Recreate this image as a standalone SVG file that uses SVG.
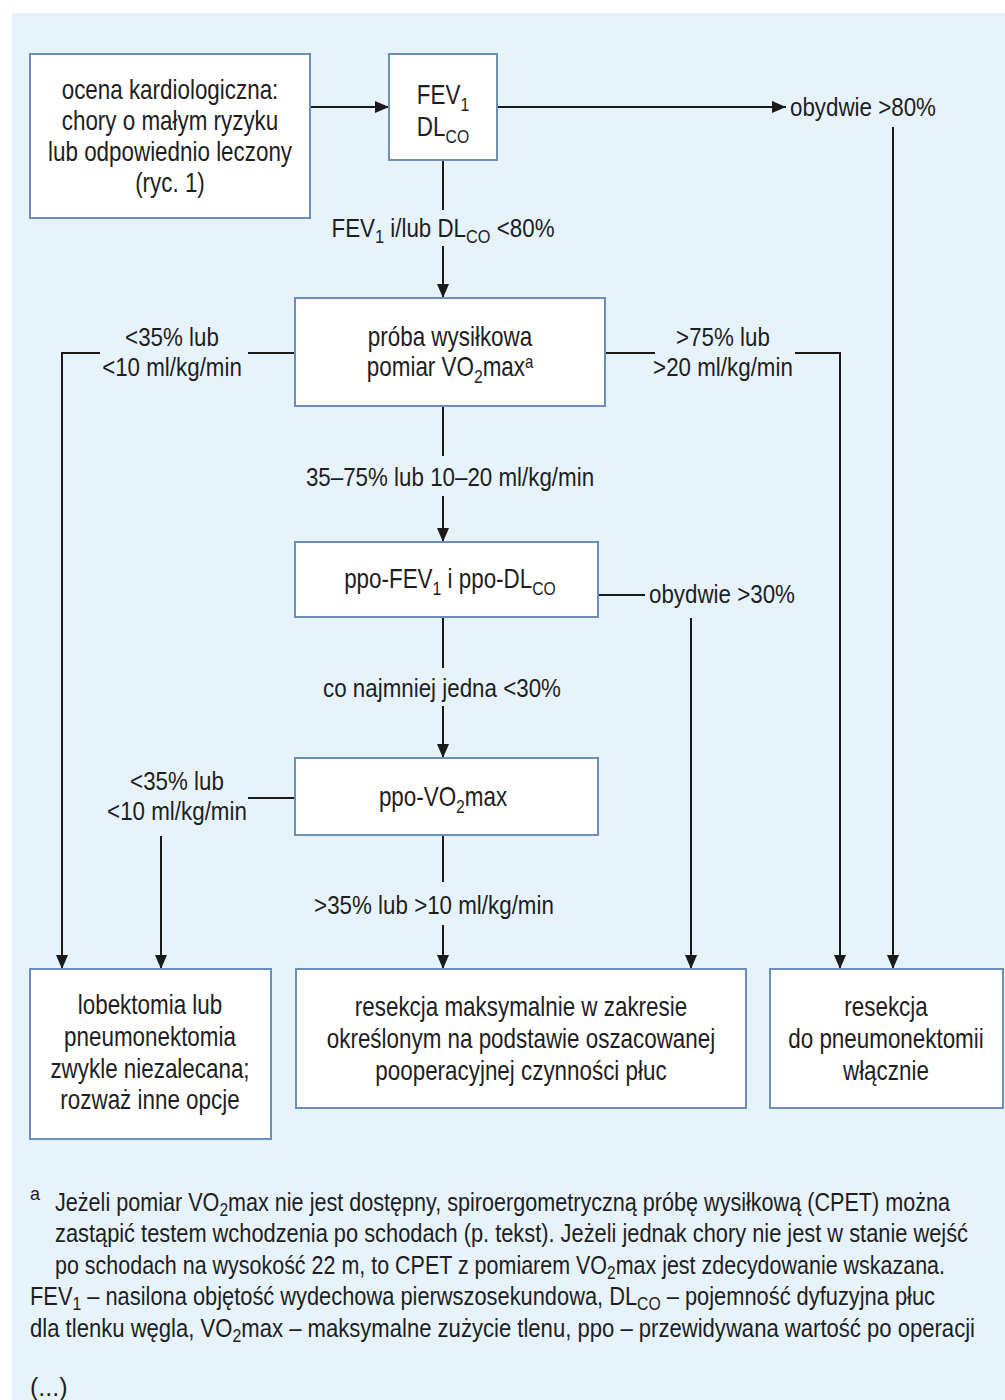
<svg xmlns="http://www.w3.org/2000/svg" width="1005" height="1400" viewBox="0 0 1005 1400">
<defs>
<marker id="ah" markerUnits="userSpaceOnUse" markerWidth="14" markerHeight="12" refX="14" refY="6" orient="auto">
<path d="M0,0 L14,6 L0,12 Z" fill="#1a1a1a"/>
</marker>
<style>
.box{fill:#ffffff;stroke:#6a8fbd;stroke-width:2}
.t{font-family:"Liberation Sans",Arial,sans-serif;font-size:27px;fill:#1e1e1e;text-anchor:middle;transform-box:fill-box;transform-origin:50% 50%;transform:scaleX(0.83)}
.l{font-family:"Liberation Sans",Arial,sans-serif;font-size:26px;fill:#1e1e1e;transform-box:fill-box;transform-origin:0% 50%;transform:scaleX(0.86)}
.l.c{text-anchor:middle;transform-origin:50% 50%}
.f{font-family:"Liberation Sans",Arial,sans-serif;font-size:25px;fill:#1e1e1e}
.ln{fill:none;stroke:#1a1a1a;stroke-width:2}
.ar{marker-end:url(#ah)}
.sub{font-size:19px}
.fs{font-size:18px}
</style>
</defs>
<rect x="0" y="0" width="1005" height="1400" fill="#ffffff"/>
<rect x="12" y="13" width="993" height="1387" fill="#e7f3fb"/>

<g id="connectors">
<path class="ln ar" d="M310,107 H389"/>
<path class="ln ar" d="M497,107 H786"/>
<path class="ln ar" d="M893,127 V969"/>
<path class="ln" d="M443,160 V210"/>
<path class="ln ar" d="M443,246 V298"/>
<path class="ln" d="M295,353 H248"/>
<path class="ln ar" d="M100,353 H62 V969"/>
<path class="ln" d="M605,353 H655"/>
<path class="ln ar" d="M795,353 H840 V969"/>
<path class="ln" d="M443,406 V456"/>
<path class="ln ar" d="M443,496 V542"/>
<path class="ln" d="M598,595 H645"/>
<path class="ln ar" d="M691,618 V969"/>
<path class="ln" d="M443,617 V668"/>
<path class="ln ar" d="M443,706 V758"/>
<path class="ln" d="M295,798 H248"/>
<path class="ln ar" d="M161,836 V969"/>
<path class="ln" d="M443,835 V882"/>
<path class="ln ar" d="M443,925 V969"/>
</g>

<g id="labels">
<text class="l c" x="443" y="237">FEV<tspan class="sub" baseline-shift="-6">1</tspan> i/lub DL<tspan class="sub" baseline-shift="-6">CO</tspan> &lt;80%</text>
<text class="l" x="790" y="116">obydwie &gt;80%</text>
<text class="l c" x="172" y="346">&lt;35% lub</text>
<text class="l c" x="172" y="376">&lt;10 ml/kg/min</text>
<text class="l c" x="723" y="346">&gt;75% lub</text>
<text class="l c" x="723" y="376">&gt;20 ml/kg/min</text>
<text class="l c" x="450" y="486">35–75% lub 10–20 ml/kg/min</text>
<text class="l" x="649" y="603">obydwie &gt;30%</text>
<text class="l c" x="442" y="697">co najmniej jedna &lt;30%</text>
<text class="l c" x="177" y="790">&lt;35% lub</text>
<text class="l c" x="177" y="820">&lt;10 ml/kg/min</text>
<text class="l c" x="434" y="914">&gt;35% lub &gt;10 ml/kg/min</text>
</g>

<g id="n1">
<rect class="box" x="30" y="54" width="280" height="164"/>
<text class="t" x="170" y="99">ocena kardiologiczna:</text>
<text class="t" x="170" y="130">chory o małym ryzyku</text>
<text class="t" x="170" y="161">lub odpowiednio leczony</text>
<text class="t" x="170" y="192">(ryc. 1)</text>
</g>
<g id="n2">
<rect class="box" x="389" y="54" width="108" height="106"/>
<text class="t" x="443" y="104">FEV<tspan class="sub" baseline-shift="-6">1</tspan></text>
<text class="t" x="443" y="136">DL<tspan class="sub" baseline-shift="-6">CO</tspan></text>
</g>
<g id="n3">
<rect class="box" x="295" y="298" width="310" height="108"/>
<text class="t" x="450" y="346">próba wysiłkowa</text>
<text class="t" x="450" y="376">pomiar VO<tspan class="sub" baseline-shift="-6">2</tspan>max<tspan class="fs" baseline-shift="8">a</tspan></text>
</g>
<g id="n4">
<rect class="box" x="295" y="542" width="303" height="75"/>
<text class="t" x="450" y="588">ppo-FEV<tspan class="sub" baseline-shift="-6">1</tspan> i ppo-DL<tspan class="sub" baseline-shift="-6">CO</tspan></text>
</g>
<g id="n5">
<rect class="box" x="295" y="758" width="303" height="77"/>
<text class="t" x="443" y="806">ppo-VO<tspan class="sub" baseline-shift="-6">2</tspan>max</text>
</g>
<g id="n6">
<rect class="box" x="30" y="969" width="241" height="170"/>
<text class="t" x="150" y="1014">lobektomia lub</text>
<text class="t" x="150" y="1046">pneumonektomia</text>
<text class="t" x="150" y="1078">zwykle niezalecana;</text>
<text class="t" x="150" y="1109">rozważ inne opcje</text>
</g>
<g id="n7">
<rect class="box" x="296" y="969" width="450" height="139"/>
<text class="t" x="521" y="1016">resekcja maksymalnie w zakresie</text>
<text class="t" x="521" y="1048">określonym na podstawie oszacowanej</text>
<text class="t" x="521" y="1080">pooperacyjnej czynności płuc</text>
</g>
<g id="n8">
<rect class="box" x="770" y="969" width="233" height="139"/>
<text class="t" x="886" y="1016">resekcja</text>
<text class="t" x="886" y="1048">do pneumonektomii</text>
<text class="t" x="886" y="1080">włącznie</text>
</g>

<g id="footnote">
<text class="f fs" x="30" y="1200">a</text>
<text class="f" x="55" y="1211" textLength="895" lengthAdjust="spacingAndGlyphs">Jeżeli pomiar VO<tspan class="fs" baseline-shift="-5">2</tspan>max nie jest dostępny, spiroergometryczną próbę wysiłkową (CPET) można</text>
<text class="f" x="55" y="1242" textLength="913" lengthAdjust="spacingAndGlyphs">zastąpić testem wchodzenia po schodach (p. tekst). Jeżeli jednak chory nie jest w stanie wejść</text>
<text class="f" x="55" y="1274" textLength="890" lengthAdjust="spacingAndGlyphs">po schodach na wysokość 22 m, to CPET z pomiarem VO<tspan class="fs" baseline-shift="-5">2</tspan>max jest zdecydowanie wskazana.</text>
<text class="f" x="30" y="1305" textLength="905" lengthAdjust="spacingAndGlyphs">FEV<tspan class="fs" baseline-shift="-5">1</tspan> – nasilona objętość wydechowa pierwszosekundowa, DL<tspan class="fs" baseline-shift="-5">CO</tspan> – pojemność dyfuzyjna płuc</text>
<text class="f" x="30" y="1337" textLength="945" lengthAdjust="spacingAndGlyphs">dla tlenku węgla, VO<tspan class="fs" baseline-shift="-5">2</tspan>max – maksymalne zużycie tlenu, ppo – przewidywana wartość po operacji</text>
<text class="f" x="30" y="1396">(...)</text>
</g>
</svg>
